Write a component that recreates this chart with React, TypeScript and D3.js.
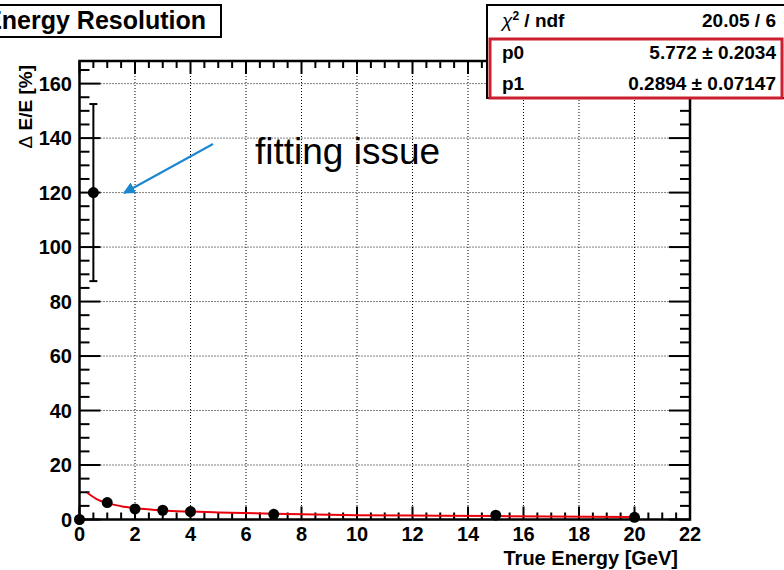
import React from 'react';
import * as d3 from 'd3';

// measured points (energy in GeV, resolution in %)
const energies = [0, 0.5, 1, 2, 3, 4, 7, 15, 20];
const resolution = [0, 120, 6.2, 3.9, 3.4, 2.9, 1.9, 1.6, 0.8];
const resErrors = [0, 32.5, 0.6, 0.4, 0.4, 0.3, 0.3, 0.3, 0.3];

// fitted curve
const fitE = [0.28, 0.6, 1, 1.5, 2, 3, 4, 5, 7, 10, 13, 17, 20];
const fitRes = [9.8, 7.6, 6.0, 4.9, 4.2, 3.3, 2.9, 2.6, 2.1, 1.6, 1.4, 1.1, 0.9];

const xTicks = [0, 2, 4, 6, 8, 10, 12, 14, 16, 18, 20, 22];
const yTicks = [0, 20, 40, 60, 80, 100, 120, 140, 160];

const statNames = ['p0', 'p1'];
const statValues = ['20.05 / 6', '5.772 ± 0.2034', '0.2894 ± 0.07147'];

const FONT = '"Liberation Sans", Arial, Helvetica, sans-serif';

export default function App() {
  const left = 79.5, right = 690, top = 61, bottom = 519.5;
  const x = d3.scaleLinear().domain([0, 22]).range([left, right]);
  const y = d3.scaleLinear().domain([0, 168.3]).range([bottom, top]);

  const xMinor = d3.range(0, 22.001, 0.5);
  const yMinor = d3.range(0, 168, 5);

  const fitLine = d3.line<number>()
    .x((_, i) => x(fitE[i]))
    .y((_, i) => y(fitRes[i]))
    .curve(d3.curveMonotoneX)(fitE);

  const rowY = [27, 59, 90];

  return (
    <svg width={784} height={570} style={{ position: 'absolute', left: 0, top: 0, background: '#fff' }}
         fontFamily={FONT}>
      <defs>
        <marker id="ah" viewBox="0 0 10 10" refX="9" refY="5" markerWidth="6" markerHeight="6" orient="auto">
          <path d="M0,0 L10,5 L0,10 z" fill="#1a87d0" />
        </marker>
      </defs>
      <rect width={784} height={570} fill="#fff" />

      {/* grid */}
      <g stroke="#000" strokeWidth={1} strokeDasharray="1 2">
        {xTicks.slice(1, -1).map(t => (
          <line key={`gx${t}`} x1={x(t)} x2={x(t)} y1={top} y2={bottom} />
        ))}
        {yTicks.slice(1).map(t => (
          <line key={`gy${t}`} x1={left} x2={right} y1={y(t)} y2={y(t)} />
        ))}
      </g>

      {/* ticks */}
      <g stroke="#000" strokeWidth={2}>
        {xMinor.map(t => {
          const major = Math.abs(t % 2) < 1e-6;
          const len = major ? 13 : 7;
          return (
            <g key={`xt${t}`}>
              <line x1={x(t)} x2={x(t)} y1={bottom} y2={bottom - len} />
              <line x1={x(t)} x2={x(t)} y1={top} y2={top + len} />
            </g>
          );
        })}
        {yMinor.map(t => {
          const major = t % 20 === 0;
          const len = major ? 21 : 10;
          return (
            <g key={`yt${t}`}>
              <line x1={left} x2={left + len} y1={y(t)} y2={y(t)} />
              <line x1={right} x2={right - len} y1={y(t)} y2={y(t)} />
            </g>
          );
        })}
      </g>

      {/* frame */}
      <rect x={left} y={top} width={right - left} height={bottom - top} fill="none" stroke="#000" strokeWidth={2.5} />

      {/* tick labels */}
      <g fontSize={20} fontWeight="bold" fill="#000">
        {xTicks.map(t => (
          <text key={`xl${t}`} x={x(t)} y={540.5} textAnchor="middle">{t}</text>
        ))}
        {yTicks.map(t => (
          <text key={`yl${t}`} x={72} y={y(t) + 7} textAnchor="end">{t}</text>
        ))}
      </g>

      {/* axis titles */}
      <text x={678} y={565} textAnchor="end" fontSize={20} fontWeight="bold">True Energy [GeV]</text>
      <text transform="translate(32,65) rotate(-90)" textAnchor="end" fontSize={19} fontWeight="bold">
        <tspan fontWeight="normal">Δ</tspan> E/E [%]
      </text>

      {/* fit */}
      <path d={fitLine || ''} fill="none" stroke="#e8000b" strokeWidth={2} />

      {/* points */}
      <g stroke="#000" strokeWidth={2}>
        {energies.map((e, i) => (
          resErrors[i] > 1 ? (
            <g key={`eb${i}`}>
              <line x1={x(e)} x2={x(e)} y1={y(resolution[i] - resErrors[i])} y2={y(resolution[i] + resErrors[i])} />
              <line x1={x(e) - 4} x2={x(e) + 4} y1={y(resolution[i] - resErrors[i])} y2={y(resolution[i] - resErrors[i])} />
              <line x1={x(e) - 4} x2={x(e) + 4} y1={y(resolution[i] + resErrors[i])} y2={y(resolution[i] + resErrors[i])} />
            </g>
          ) : null
        ))}
      </g>
      <g fill="#000">
        {energies.map((e, i) => (
          <circle key={`p${i}`} cx={x(e)} cy={y(resolution[i])} r={5.5} />
        ))}
      </g>

      {/* annotation */}
      <line x1={213} y1={144} x2={124} y2={193} stroke="#1a87d0" strokeWidth={2} markerEnd="url(#ah)" />
      <text x={255} y={164} fontSize={37} fill="#000">fitting issue</text>

      {/* title */}
      <rect x={-20} y={5} width={241} height={32} fill="#fff" stroke="#000" strokeWidth={2} />
      <text x={206} y={29} textAnchor="end" fontSize={25} fontWeight="bold">Energy Resolution</text>

      {/* stats box */}
      <rect x={487} y={5} width={310} height={93} fill="#fff" stroke="#000" strokeWidth={2} />
      <rect x={490} y={39} width={292} height={59} fill="none" stroke="#cc1f2f" strokeWidth={3} />
      <g fontSize={19} fontWeight="bold">
        <text x={502} y={rowY[0]}>
          <tspan fontWeight="normal" fontStyle="italic">χ</tspan>
          <tspan fontSize={12} dy={-7}>2</tspan>
          <tspan dy={7}> / ndf</tspan>
        </text>
        {statNames.map((n, i) => (
          <text key={n} x={502} y={rowY[i + 1]}>{n}</text>
        ))}
        {statValues.map((v, i) => (
          <text key={v} x={776} y={rowY[i]} textAnchor="end">{v}</text>
        ))}
      </g>
    </svg>
  );
}
